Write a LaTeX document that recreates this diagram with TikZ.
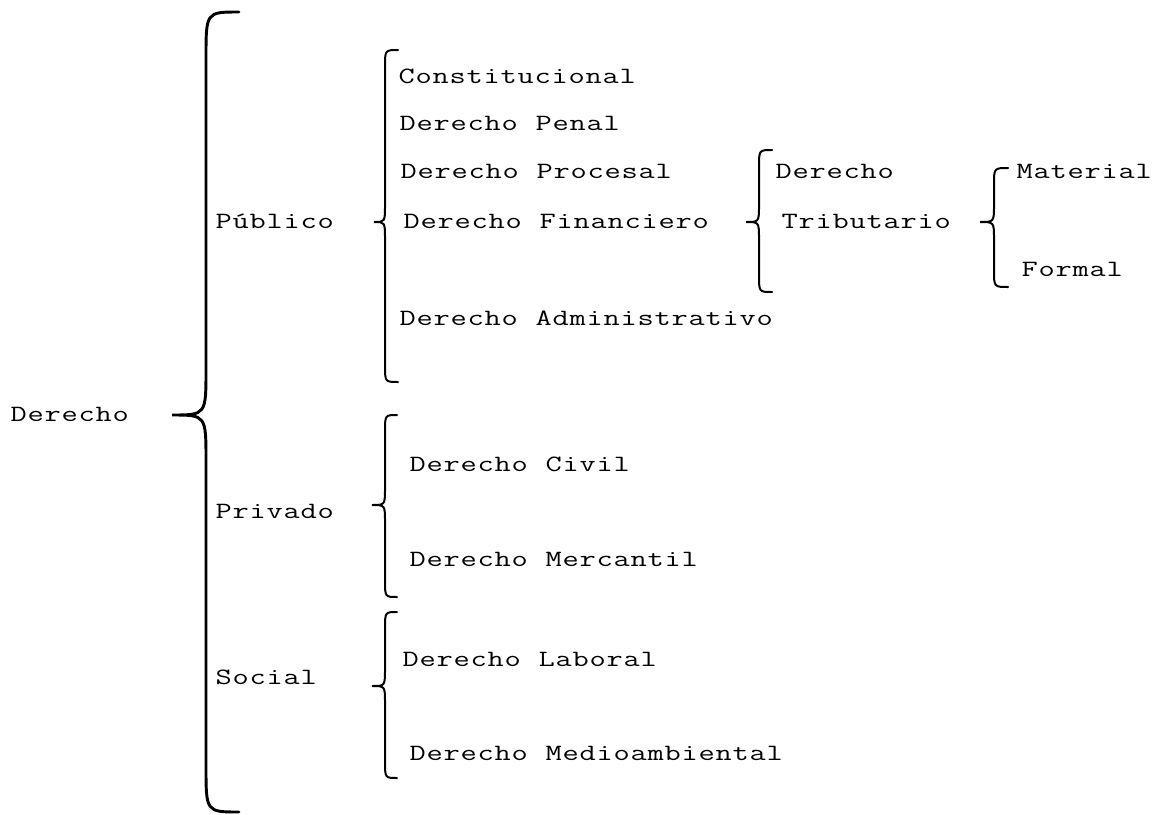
\documentclass[tikz,border=0pt]{standalone}
\usepackage{fontspec}
\usepackage{graphicx}
\ExplSyntaxOn
\NewDocumentCommand\mono{m}{\str_map_inline:nn {#1} {\makebox[12.75pt][c]{\scalebox{1.35}[1]{##1}}}}
\ExplSyntaxOff
\newcommand\mybrace[8]{% style, xe, xv, xt, ytop, ytip, ybot, r
  \draw[#1] (#2,#5) .. controls (#3,#5) .. (#3,#5+#8) -- (#3,#6-#8)
    .. controls (#3,#6) .. (#4,#6) .. controls (#3,#6) .. (#3,#6+#8)
    -- (#3,#7-#8) .. controls (#3,#7) .. (#2,#7);}
\begin{document}
\begin{tikzpicture}[x=0.75pt,y=-0.75pt,
  lbl/.style={anchor=base west,inner sep=0pt,font=\ttfamily\fontsize{17.5}{21}\selectfont},
  bigbr/.style={line width=2.2pt,line cap=round},
  smallbr/.style={line width=1.5pt,line cap=round}]
\useasboundingbox (0,0) rectangle (1163,814);
% braces
\mybrace{bigbr}{239}{206}{172}{12}{415}{812}{46}
\mybrace{smallbr}{398}{385}{374}{50}{222}{382}{17}
\mybrace{smallbr}{772}{759}{746}{150}{222}{292}{17}
\mybrace{smallbr}{1008}{994}{980}{168}{222}{287}{17}
\mybrace{smallbr}{397}{385}{372}{415}{505}{597}{17}
\mybrace{smallbr}{397}{385}{372}{612}{686}{778}{17}
% labels
\node[lbl] (der) at (10,421.5) {\mono{Derecho}};
\node[lbl] (pub) at (215,228) {\mono{Público}};
\node[lbl] (pri) at (215,518) {\mono{Privado}};
\node[lbl] (soc) at (215,684) {\mono{Social}};
\node[lbl] (con) at (398,83) {\mono{Constitucional}};
\node[lbl] (pen) at (399,130) {\mono{Derecho Penal}};
\node[lbl] (pro) at (400,178) {\mono{Derecho Procesal}};
\node[lbl] (fin) at (403,228) {\mono{Derecho Financiero}};
\node[lbl] (adm) at (399,325) {\mono{Derecho Administrativo}};
\node[lbl] (dt) at (775,178) {\mono{Derecho}};
\node[lbl] (tri) at (781,228) {\mono{Tributario}};
\node[lbl] (mat) at (1016,178) {\mono{Material}};
\node[lbl] (for) at (1021,276) {\mono{Formal}};
\node[lbl] (civ) at (409,471) {\mono{Derecho Civil}};
\node[lbl] (mer) at (409,566) {\mono{Derecho Mercantil}};
\node[lbl] (lab) at (402,666) {\mono{Derecho Laboral}};
\node[lbl] (med) at (409,760) {\mono{Derecho Medioambiental}};
\end{tikzpicture}
\end{document}
